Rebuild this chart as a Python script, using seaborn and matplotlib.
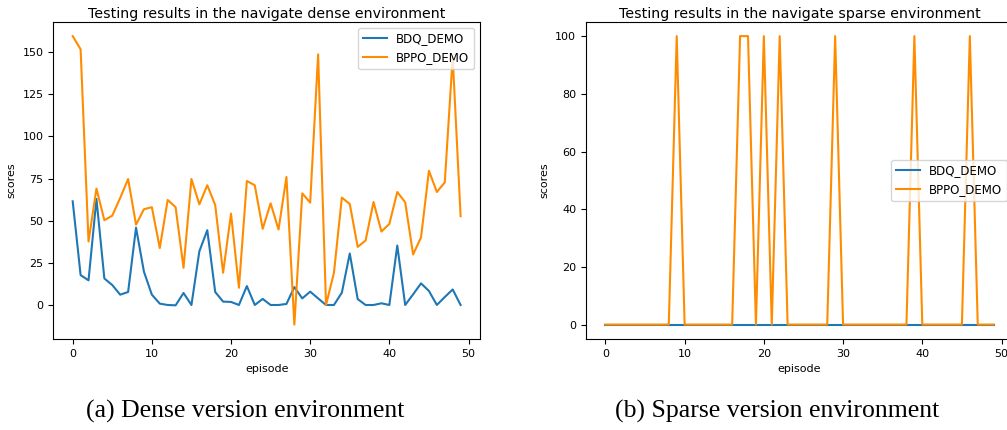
import matplotlib
matplotlib.use("Agg")
import matplotlib.pyplot as plt
import seaborn as sns
import pandas as pd

# data
episodes = list(range(50))

dense_bdq = [61.6, 17.9, 14.8, 63.0, 15.9, 12.0, 6.3, 7.9, 46.0, 19.9,
             6.3, 1.0, 0.2, 0.0, 7.3, 0.2, 32.0, 44.5, 7.9, 2.2,
             2.0, 0.2, 11.4, 0.2, 3.8, 0.2, 0.2, 0.8, 10.8, 4.1,
             8.1, 4.1, 0.2, 0.2, 7.5, 30.7, 3.7, 0.2, 0.2, 1.2,
             0.2, 35.4, 0.2, 6.5, 13.0, 8.5, 0.2, 4.9, 9.4, 0.2]

dense_bppo = [159.4, 151.6, 37.8, 69.1, 50.4, 53.1, 63.6, 74.8, 47.8, 56.9,
              58.1, 33.9, 62.4, 58.1, 22.2, 74.8, 59.8, 71.1, 59.4, 19.3,
              54.3, 10.4, 73.6, 71.1, 45.3, 60.4, 44.9, 76.0, -11.4, 66.3,
              60.8, 148.6, 0.2, 19.3, 63.8, 60.0, 34.6, 38.4, 61.2, 43.7,
              48.2, 67.1, 61.0, 30.1, 40.2, 79.7, 67.1, 72.8, 146.9, 52.8]

sparse_bdq = [0] * 50

sparse_peaks = [9, 17, 18, 20, 22, 29, 39, 46]
sparse_bppo = [100 if e in sparse_peaks else 0 for e in episodes]

series_names = ["BDQ_DEMO", "BPPO_DEMO"]
series_colors = ["#1f77b4", "#ff8c00"]

titles = ["Testing results in the navigate dense environment",
          "Testing results in the navigate sparse environment"]
captions = ["(a) Dense version environment", "(b) Sparse version environment"]


def make_frame(bdq, bppo):
    return pd.DataFrame({
        "episode": episodes * 2,
        "scores": bdq + bppo,
        "algo": [series_names[0]] * 50 + [series_names[1]] * 50,
    })


def draw(ax, df, title, legend_loc):
    sns.lineplot(data=df, x="episode", y="scores", hue="algo",
                 palette=series_colors, linewidth=1.5, ax=ax)
    ax.set_title(title, fontsize=10.2, pad=3)
    ax.set_xlabel("episode", fontsize=8)
    ax.set_ylabel("scores", fontsize=8)
    ax.tick_params(labelsize=8)
    ax.set_xticks([0, 10, 20, 30, 40, 50])
    ax.legend(loc=legend_loc, fontsize=8.5, title=None)


fig = plt.figure(figsize=(10.07, 4.30), dpi=100)

ax1 = fig.add_axes([53.3 / 1007, 91 / 430, 426.7 / 1007, 317.3 / 430])
draw(ax1, make_frame(dense_bdq, dense_bppo), titles[0], "upper right")

ax2 = fig.add_axes([586 / 1007, 91 / 430, 427 / 1007, 317.3 / 430])
draw(ax2, make_frame(sparse_bdq, sparse_bppo), titles[1], "center right")
ax2.set_yticks([0, 20, 40, 60, 80, 100])

fig.text(245 / 1007, 1 - 411 / 430, captions[0], ha="center", va="center",
         family="Liberation Serif", fontsize=18.5)
fig.text(777 / 1007, 1 - 411 / 430, captions[1], ha="center", va="center",
         family="Liberation Serif", fontsize=18.5)

fig.savefig("out.png", dpi=100)
